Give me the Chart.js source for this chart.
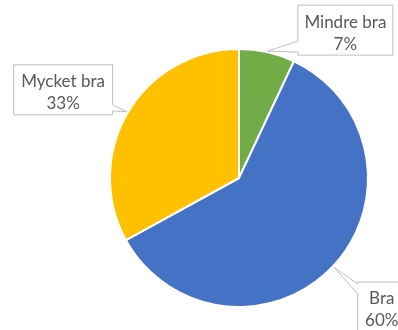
<!DOCTYPE html>
<html>
<head>
<meta charset="utf-8">
<script src="https://cdn.jsdelivr.net/npm/chart.js@4.4.1/dist/chart.umd.min.js"></script>
<style>
  html, body { margin: 0; padding: 0; background: #fff; overflow: hidden; }
  #wrap { width: 398px; height: 330px; position: relative; }
</style>
</head>
<body>
<div id="wrap"><canvas id="chartPie"></canvas></div>
<script>
const labels = ['Mindre bra', 'Bra', 'Mycket bra'];
const values = [7, 60, 33];
const colors = ['#70AD47', '#4472C4', '#FFC000'];

// etikettrutor: förskjutning från spetsen, bredd, sida för pilen
const callouts = [
  { dx: 78, dy: -21, w: 95, side: 'left', base: [36, 47] },
  { dx: 48, dy: 40, w: 48, side: 'left', base: [2, 12] },
  { dx: -64, dy: -22, w: 99, side: 'right', base: [40, 46] }
];

const calloutPlugin = {
  id: 'callouts',
  afterDatasetsDraw(chart) {
    const ctx = chart.ctx;
    const arcs = chart.getDatasetMeta(0).data;
    const total = values.reduce((a, b) => a + b, 0);
    arcs.forEach((arc, i) => {
      const c = callouts[i];
      const mid = (arc.startAngle + arc.endAngle) / 2;
      const tx = arc.x + Math.cos(mid) * (arc.outerRadius + 1);
      const ty = arc.y + Math.sin(mid) * (arc.outerRadius + 1);
      const w = c.w, h = 50;
      const x0 = tx + c.dx - w / 2, y0 = ty + c.dy - h / 2;

      ctx.save();
      ctx.beginPath();
      ctx.moveTo(x0, y0);
      ctx.lineTo(x0 + w, y0);
      if (c.side === 'right') {
        ctx.lineTo(x0 + w, y0 + c.base[0]);
        ctx.lineTo(tx, ty);
        ctx.lineTo(x0 + w, y0 + c.base[1]);
      }
      ctx.lineTo(x0 + w, y0 + h);
      ctx.lineTo(x0, y0 + h);
      if (c.side === 'left') {
        ctx.lineTo(x0, y0 + c.base[1]);
        ctx.lineTo(tx, ty);
        ctx.lineTo(x0, y0 + c.base[0]);
      }
      ctx.closePath();
      ctx.fillStyle = '#ffffff';
      ctx.fill();
      ctx.strokeStyle = '#BFBFBF';
      ctx.lineWidth = 1;
      ctx.stroke();

      ctx.fillStyle = '#595959';
      ctx.font = '17px Lato';
      ctx.textAlign = 'center';
      ctx.textBaseline = 'middle';
      const pct = Math.round(values[i] / total * 100) + '%';
      ctx.fillText(labels[i], x0 + w / 2, y0 + 17);
      ctx.fillText(pct, x0 + w / 2, y0 + 39);
      ctx.restore();
    });
  }
};

const ctx = document.getElementById('chartPie').getContext('2d');
new Chart(ctx, {
  type: 'pie',
  data: {
    labels: labels,
    datasets: [{
      data: values,
      backgroundColor: colors,
      borderColor: '#ffffff',
      borderWidth: 2
    }]
  },
  options: {
    responsive: true,
    maintainAspectRatio: false,
    animation: false,
    layout: { padding: { left: 109, right: 29, top: 48, bottom: 22 } },
    plugins: {
      legend: { display: false },
      tooltip: { enabled: false }
    }
  },
  plugins: [calloutPlugin]
});
</script>
</body>
</html>
